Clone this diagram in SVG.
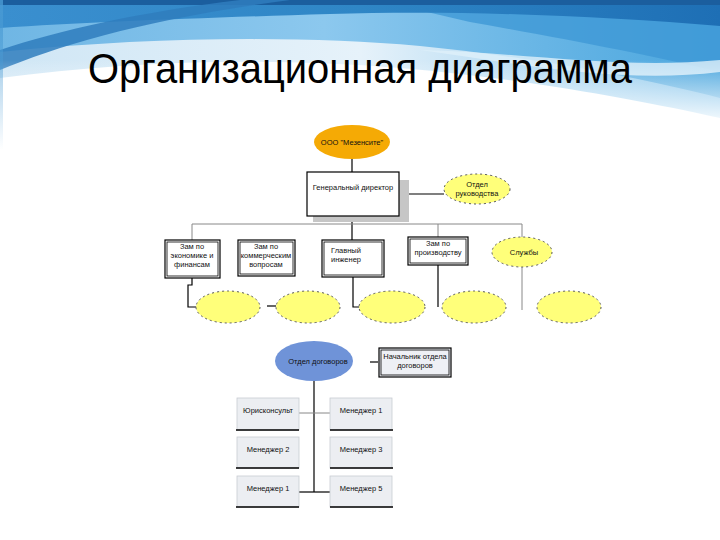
<svg xmlns="http://www.w3.org/2000/svg" width="720" height="540" viewBox="0 0 720 540">
<defs>
<linearGradient id="bgA" x1="0" y1="0" x2="1" y2="0">
<stop offset="0" stop-color="#cfe6f5"/><stop offset="0.5" stop-color="#e6f2fa"/><stop offset="1" stop-color="#7cc0ea"/>
</linearGradient>
<linearGradient id="bgB" x1="0" y1="0" x2="1" y2="0">
<stop offset="0" stop-color="#6fb6e4"/><stop offset="0.45" stop-color="#8cc8ee"/><stop offset="1" stop-color="#4aa6de"/>
</linearGradient>
<linearGradient id="bgC" x1="0" y1="0" x2="1" y2="0">
<stop offset="0" stop-color="#3a8fcf"/><stop offset="0.5" stop-color="#2f86c6"/><stop offset="1" stop-color="#1e6fb5"/>
</linearGradient>
<linearGradient id="fade" x1="0" y1="0" x2="0" y2="1">
<stop offset="0" stop-color="#ffffff" stop-opacity="0"/><stop offset="1" stop-color="#ffffff" stop-opacity="0.9"/>
</linearGradient>
<linearGradient id="edge" x1="0" y1="0" x2="0" y2="1">
<stop offset="0" stop-color="#4a9bd4" stop-opacity="0.8"/><stop offset="1" stop-color="#4a9bd4" stop-opacity="0"/>
</linearGradient>
</defs>
<style>
.t{font-family:"Liberation Sans",Arial,sans-serif;font-size:7.5px;fill:#111;text-anchor:middle}
.ln{stroke:#000;stroke-width:1.2;fill:none}
.lg{stroke:#888;stroke-width:1;fill:none}
.box{fill:#fff;stroke:#000;stroke-width:1.2}
.dbl{fill:none;stroke:#000;stroke-width:0.8}
.yel{fill:#ffff7a;stroke:#555;stroke-width:1;stroke-dasharray:2 3}
.gbox{fill:#eceef2;stroke:#c9ccd2;stroke-width:0.8}
.gbot{stroke:#000;stroke-width:1.6}
</style>
<rect width="720" height="540" fill="#fff"/>
<g id="background">
<path d="M0,0 H720 V118 C640,100 520,78 400,68 C260,56 120,62 0,78 Z" fill="url(#bgA)"/>
<path d="M0,0 H720 V98 C640,78 540,58 420,46 C300,36 160,36 0,52 Z" fill="url(#bgB)"/>
<path d="M380,0 H720 V72 C650,55 560,38 470,22 C440,15 410,8 380,0 Z" fill="#3f98d6" opacity="0.8"/>
<path d="M0,0 H720 V26 C600,16 460,10 330,14 C200,18 90,22 0,28 Z" fill="url(#bgC)"/>
<path d="M0,0 H720 V5 H0 Z" fill="#1b5e9e"/>
<path d="M0,70 C60,45 150,18 290,0 L240,0 C140,12 60,30 0,50 Z" fill="#2f7dbd" opacity="0.85"/>
<path d="M420,50 C520,52 620,70 720,60 L720,72 C620,84 520,64 420,50 Z" fill="#dff0fa" opacity="0.8"/>
<rect x="0" y="60" width="720" height="60" fill="url(#fade)"/>
<rect x="0" y="0" width="3" height="150" fill="url(#edge)"/>
</g>
<text x="88" y="83" font-family="Liberation Sans, Arial, sans-serif" font-size="42" fill="#000" textLength="544" lengthAdjust="spacingAndGlyphs">Организационная диаграмма</text>
<g id="connectors">
<line class="ln" x1="352" y1="159" x2="352" y2="172"/>
<line class="ln" x1="399" y1="194" x2="444" y2="194"/>
<line class="ln" x1="352" y1="216" x2="352" y2="240"/>
<polyline class="lg" points="192,240 192,224 522,224 522,238"/>
<line class="lg" x1="438" y1="224" x2="438" y2="237"/>
<polyline class="ln" points="192,278 192,285 188,285 188,307 197,307"/>
<line class="ln" x1="267" y1="306" x2="276" y2="306"/>
<polyline class="ln" points="353,277 353,307 360,307"/>
<line class="ln" x1="438" y1="265" x2="438" y2="307"/>
<line class="lg" x1="522" y1="267" x2="522" y2="310"/>
<line class="ln" x1="286" y1="351" x2="286" y2="372"/>
<line class="ln" x1="370" y1="362" x2="378" y2="362"/>
<line class="ln" x1="314" y1="381" x2="314" y2="492"/>
<line class="lg" x1="299" y1="413" x2="330" y2="413"/>
<line class="ln" x1="299" y1="492" x2="330" y2="492"/>
</g>
<g id="n-ooo">
<ellipse cx="352" cy="142" rx="38" ry="17" fill="#f5aa05"/>
<text class="t" x="352" y="145">ООО "Мезенсите"</text>
</g>
<g id="n-director">
<rect x="313" y="180" width="96" height="42" fill="#c6c6c6"/>
<rect class="box" x="307" y="172" width="92" height="44"/>
<text class="t" x="353" y="190">Генеральный директор</text>
</g>
<g id="n-otdel-ruk">
<ellipse class="yel" cx="477" cy="189" rx="33" ry="15"/>
<text class="t" x="477" y="187">Отдел</text>
<text class="t" x="477" y="196">руководства</text>
</g>
<g id="n-zam-econ">
<rect class="box" x="165" y="240" width="55" height="38"/>
<rect class="dbl" x="167" y="242" width="51" height="34"/>
<text class="t" x="192" y="249">Зам по</text>
<text class="t" x="192" y="258">экономике и</text>
<text class="t" x="192" y="267">финансам</text>
</g>
<g id="n-zam-comm">
<rect class="box" x="238" y="240" width="57" height="36"/>
<rect class="dbl" x="240" y="242" width="53" height="32"/>
<text class="t" x="266" y="249">Зам по</text>
<text class="t" x="266" y="258">коммерческим</text>
<text class="t" x="266" y="267">вопросам</text>
</g>
<g id="n-glav-ing">
<rect class="box" x="322" y="240" width="62" height="37"/>
<rect class="dbl" x="324" y="242" width="58" height="33"/>
<text class="t" x="346" y="253">Главный</text>
<text class="t" x="346" y="262">инженер</text>
</g>
<g id="n-zam-proizv">
<rect class="box" x="408" y="237" width="60" height="28"/>
<rect class="dbl" x="410" y="239" width="56" height="24"/>
<text class="t" x="438" y="246">Зам по</text>
<text class="t" x="438" y="255">производству</text>
</g>
<g id="n-sluzhby">
<ellipse class="yel" cx="522" cy="252" rx="30" ry="15"/>
<text class="t" x="524" y="255">Службы</text>
</g>
<g id="n-e1"><ellipse class="yel" cx="228" cy="307" rx="32" ry="16"/></g>
<g id="n-e2"><ellipse class="yel" cx="308" cy="307" rx="32" ry="16"/></g>
<g id="n-e3"><ellipse class="yel" cx="392" cy="307" rx="33" ry="16"/></g>
<g id="n-e4"><ellipse class="yel" cx="474" cy="307" rx="32" ry="16"/></g>
<g id="n-e5"><ellipse class="yel" cx="569" cy="307" rx="32" ry="16"/></g>
<g id="n-otdel-dog">
<ellipse cx="314" cy="361" rx="39" ry="20" fill="#6f93d8"/>
<text class="t" x="318" y="364">Отдел договоров</text>
</g>
<g id="n-nach-otdela">
<rect x="379" y="348" width="72" height="29" fill="#eef0f5" stroke="#000" stroke-width="1.2"/>
<rect class="dbl" x="381" y="350" width="68" height="25"/>
<text class="t" x="415" y="359">Начальник отдела</text>
<text class="t" x="415" y="368">договоров</text>
</g>
<g id="n-yurist">
<rect class="gbox" x="237" y="398" width="62" height="32"/>
<line class="gbot" x1="236" y1="430" x2="299" y2="430"/>
<text class="t" x="268" y="413">Юрисконсульт</text>
</g>
<g id="n-men1">
<rect class="gbox" x="330" y="398" width="62" height="32"/>
<line class="gbot" x1="330" y1="430" x2="393" y2="430"/>
<text class="t" x="361" y="413">Менеджер 1</text>
</g>
<g id="n-men2">
<rect class="gbox" x="237" y="437" width="62" height="31"/>
<line class="gbot" x1="236" y1="468" x2="299" y2="468"/>
<text class="t" x="268" y="452">Менеджер 2</text>
</g>
<g id="n-men3">
<rect class="gbox" x="330" y="437" width="62" height="31"/>
<line class="gbot" x1="330" y1="468" x2="393" y2="468"/>
<text class="t" x="361" y="452">Менеджер 3</text>
</g>
<g id="n-men1b">
<rect class="gbox" x="237" y="476" width="62" height="31"/>
<line class="gbot" x1="236" y1="507" x2="299" y2="507"/>
<text class="t" x="268" y="491">Менеджер 1</text>
</g>
<g id="n-men5">
<rect class="gbox" x="330" y="476" width="62" height="31"/>
<line class="gbot" x1="330" y1="507" x2="393" y2="507"/>
<text class="t" x="361" y="491">Менеджер 5</text>
</g>
</svg>
